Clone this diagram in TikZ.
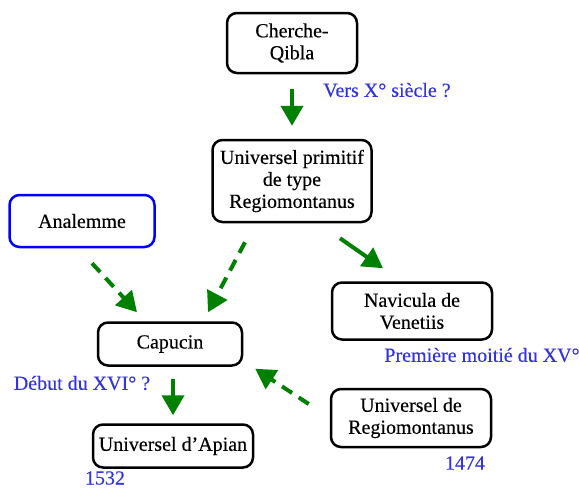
\documentclass[tikz,border=0pt]{standalone}
\usepackage{fontspec}
\setmainfont{Liberation Serif}[FakeBold=0.3]
\usetikzlibrary{arrows.meta}
\definecolor{vert}{RGB}{0,128,0}
\definecolor{bleudate}{RGB}{51,51,221}

\tikzset{
  boite/.style={draw, line width=2.5pt, rounded corners=10pt, align=center,
    inner sep=2pt, font=\fontsize{20}{22}\selectfont},
  fleche/.style={vert, line width=4pt, -{Triangle[length=20pt,width=22pt]}},
  flechept/.style={fleche, dash pattern=on 12pt off 8pt},
  datation/.style={text=bleudate, inner sep=0pt, font=\fontsize{20}{22}\selectfont}
}

\begin{document}
\begin{tikzpicture}[x=1pt,y=-1pt]
    \useasboundingbox (0,0) rectangle (579,490);
    % les instruments
    \node[boite, minimum width=130pt, minimum height=60pt] (cq) at (292,43) {Cherche-\\Qibla};
    \node[boite, minimum width=159pt, minimum height=82pt] (up) at (292,181) {Universel primitif\\de type\\Regiomontanus};
    \node[boite, draw=blue, minimum width=145pt, minimum height=52pt] (ana) at (82,221) {Analemme};
    \node[boite, minimum width=144pt, minimum height=43pt] (cap) at (170,344) {Capucin};
    \node[boite, minimum width=160pt, minimum height=43pt] (apian) at (173,446) {Universel d'Apian};
    \node[boite, minimum width=160pt, minimum height=57pt] (nav) at (412,311) {Navicula de\\Venetiis};
    \node[boite, minimum width=160pt, minimum height=58pt] (reg) at (411,418) {Universel de\\Regiomontanus};
    % les dates
    \node[datation] (d1) at (387,90) {Vers X° siècle ?};
    \node[datation] (d2) at (482,355) {Première moitié du XV°};
    \node[datation] (d3) at (82,383) {Début du XVI° ?};
    \node[datation] (d4) at (105,478) {1532};
    \node[datation] (d5) at (465,463) {1474};
    % les filiations
    \draw[fleche, shorten <=15pt, shorten >=13pt] (cq) -- (up);
    \draw[fleche] ([shift={(48pt,-15pt)}]up.south) -- ([shift={(-29pt,13pt)}]nav.north);
    \draw[flechept] ([shift={(-47pt,-19pt)}]up.south) -- ([shift={(38pt,9pt)}]cap.north);
    \draw[flechept] ([shift={(10pt,-15pt)}]ana.south) -- ([shift={(-33pt,9pt)}]cap.north);
    \draw[fleche] ([shift={(3pt,-12pt)}]cap.south) -- ([shift={(0pt,8pt)}]apian.north);
    \draw[flechept] ([shift={(-21pt,14pt)}]reg.west) -- ([shift={(12pt,-2pt)}]cap.south east);
\end{tikzpicture}
\end{document}
